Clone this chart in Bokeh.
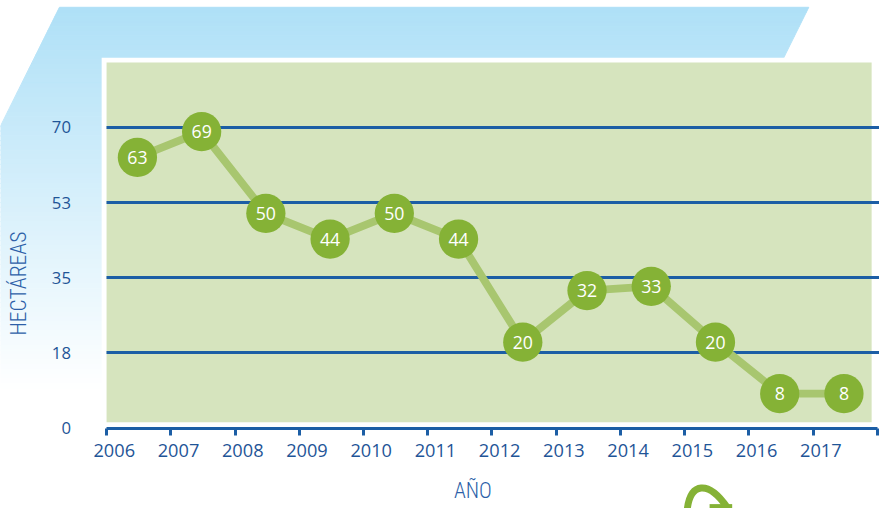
from bokeh.plotting import figure
from bokeh.models import Range1d, LinearAxis, FixedTicker, Grid
from bokeh.core.properties import value
from bokeh.embed import file_html
from bokeh.resources import INLINE

# ---------------- data ----------------
years = [2006, 2007, 2008, 2009, 2010, 2011, 2012, 2013, 2014, 2015, 2016, 2017]
hectareas = [63, 69, 50, 44, 50, 44, 20, 32, 33, 20, 8, 8]
y_ticks = [0, 17.5, 35, 52.5, 70]
y_tick_labels = ["0", "18", "35", "53", "70"]
x_tick_labels = [str(y) for y in years]
y_title = "HECTÁREAS"
x_title = "AÑO"

# ---------------- layout constants (design pixels of a 895x524 canvas) ----------------
W, H = 879, 508
REF_W, REF_H = 895, 524
S = W / REF_W
X0_PX, PX_PER_YEAR = 108, 65.4
Y0_PX, PX_PER_UNIT = 441, 4.43
POINT_SHIFT = 0.48
LABEL_SHIFT = 0.12

BLUE = "#1c5ea5"
TICK_BLUE = "#1f5597"
TITLE_BLUE = "#2d5fa8"
DOT = "#85b236"
LINE = "#a8c66f"
PANEL = "#d6e4be"
TITLE_FONT = "Roboto Condensed Light, Roboto Condensed, DejaVu Sans Condensed, Roboto Light, Roboto, sans-serif"


def dx(px):
    return years[0] + (px - X0_PX) / PX_PER_YEAR


def dy(py):
    return (Y0_PX - py) / PX_PER_UNIT


def fs(px):
    return "%.1fpx" % (px * S)


p = figure(width=W, height=H,
           x_range=Range1d(dx(0), dx(REF_W)),
           y_range=Range1d(dy(REF_H), dy(0)),
           output_backend="svg", toolbar_location=None,
           x_axis_type=None, y_axis_type=None, min_border=0)
p.outline_line_color = None
p.background_fill_color = "white"
p.border_fill_color = "white"

# ---------------- background decoration: blue slanted band fading to white ----------------
TOP, FADE = 7, 400
LEFT_TOP, RIGHT_TOP, SLOPE = 60, 823, 0.49
c0 = (174, 224, 247)
n = 80
xs, ys, cols = [], [], []
for i in range(n):
    ya = TOP + (FADE - TOP) * i / n
    yb = TOP + (FADE - TOP) * (i + 1) / n
    xla, xlb = LEFT_TOP - SLOPE * (ya - TOP), LEFT_TOP - SLOPE * (yb - TOP)
    xra, xrb = RIGHT_TOP - SLOPE * (ya - TOP), RIGHT_TOP - SLOPE * (yb - TOP)
    xs.append([dx(xla), dx(xra), dx(xrb), dx(xlb)])
    ys.append([dy(ya), dy(ya), dy(yb), dy(yb)])
    t = (i + 0.5) / n
    c = tuple(int(round(c0[k] + (255 - c0[k]) * t)) for k in range(3))
    cols.append("#%02x%02x%02x" % c)
bg = p.patches(xs, ys, fill_color=cols, line_color=cols, line_width=1)
bg.level = "image"

white = p.quad(left=dx(103), right=dx(REF_W + 5), top=dy(59), bottom=dy(REF_H + 5),
               fill_color="white", line_color=None)
white.level = "image"
panel = p.quad(left=dx(108), right=dx(887), top=dy(64), bottom=dy(435),
               fill_color=PANEL, line_color=None)
panel.level = "image"

# ---------------- grid ----------------
grid = Grid(dimension=1, ticker=FixedTicker(ticks=y_ticks[1:]),
            grid_line_color=BLUE, grid_line_width=3,
            cross_bounds=(dx(108), dx(REF_W)))
p.add_layout(grid)

# ---------------- axes ----------------
yaxis = LinearAxis(ticker=FixedTicker(ticks=y_ticks), fixed_location=dx(88),
                   axis_line_color=None, major_tick_line_color=None,
                   minor_tick_line_color=None, major_label_standoff=10,
                   major_label_overrides=dict(zip(y_ticks, y_tick_labels)),
                   major_label_text_font="Open Sans",
                   major_label_text_font_size=fs(17),
                   major_label_text_color=TICK_BLUE)
p.add_layout(yaxis, "left")

label_pos = [y + LABEL_SHIFT for y in years]
xaxis = LinearAxis(ticker=FixedTicker(ticks=label_pos, minor_ticks=years + [years[-1] + 1]),
                   fixed_location=0, bounds=(years[0], years[-1] + 1),
                   axis_line_color=BLUE, axis_line_width=3,
                   major_tick_line_color=None, major_tick_out=0, major_tick_in=0,
                   minor_tick_line_color=BLUE, minor_tick_line_width=3,
                   minor_tick_out=7, minor_tick_in=0,
                   major_label_standoff=9,
                   major_label_overrides=dict(zip(label_pos, x_tick_labels)),
                   major_label_text_font="Open Sans",
                   major_label_text_font_size=fs(18.5),
                   major_label_text_color=TICK_BLUE)
p.add_layout(xaxis, "below")

# ---------------- series ----------------
px = [y + POINT_SHIFT for y in years]
p.line(px, hectareas, line_color=LINE, line_width=8 * S)
p.scatter(px, hectareas, size=40 * S, fill_color=DOT, line_color=None)
p.text(px, hectareas, text=[str(v) for v in hectareas], text_align="center",
       text_baseline="middle", text_color="white",
       text_font=value("Open Sans"), text_font_size=fs(18))

# ---------------- titles ----------------
p.text([dx(18.5)], [dy(292)], text=[y_title], angle=1.5708, text_align="center",
       text_baseline="middle", text_color=TITLE_BLUE,
       text_font=value(TITLE_FONT), text_font_size=fs(22))
p.text([dx(481)], [dy(505)], text=[x_title], text_align="center",
       text_baseline="middle", text_color=TITLE_BLUE,
       text_font=value(TITLE_FONT), text_font_size=fs(22))

# ---------------- decorative swirl (bottom right) ----------------
p.bezier(x0=dx(699), y0=dy(527), x1=dx(740), y1=dy(523),
         cx0=dx(702), cy0=dy(496), cx1=dx(721), cy1=dy(495),
         line_color=DOT, line_width=7 * S)
p.segment(x0=dx(722), y0=dy(522), x1=dx(745), y1=dy(522),
          line_color=DOT, line_width=5 * S)

open("out.html", "w").write(file_html(p, INLINE))
